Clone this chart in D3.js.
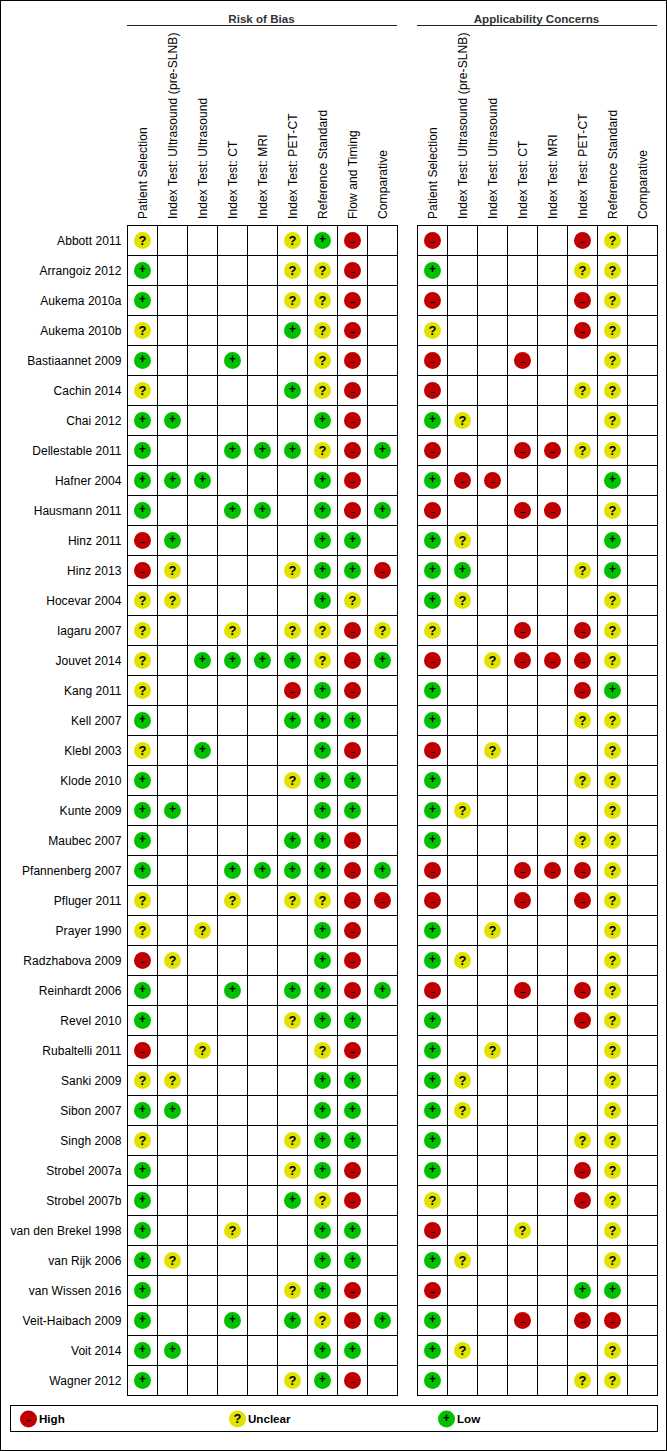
<!DOCTYPE html>
<html>
<head>
<meta charset="utf-8">
<script src="https://cdn.jsdelivr.net/npm/d3@7"></script>
<style>
  html, body { margin: 0; padding: 0; background: #fff; }
  svg { display: block; font-family: "Liberation Sans", Arial, sans-serif; }
</style>
</head>
<body>
<svg id="chart"></svg>
<script>
var studies = ["Abbott 2011", "Arrangoiz 2012", "Aukema 2010a", "Aukema 2010b", "Bastiaannet 2009",
  "Cachin 2014", "Chai 2012", "Dellestable 2011", "Hafner 2004", "Hausmann 2011", "Hinz 2011", "Hinz 2013",
  "Hocevar 2004", "Iagaru 2007", "Jouvet 2014", "Kang 2011", "Kell 2007", "Klebl 2003", "Klode 2010",
  "Kunte 2009", "Maubec 2007", "Pfannenberg 2007", "Pfluger 2011", "Prayer 1990", "Radzhabova 2009",
  "Reinhardt 2006", "Revel 2010", "Rubaltelli 2011", "Sanki 2009", "Sibon 2007", "Singh 2008",
  "Strobel 2007a", "Strobel 2007b", "van den Brekel 1998", "van Rijk 2006", "van Wissen 2016",
  "Veit-Haibach 2009", "Voit 2014", "Wagner 2012"];

var riskDomains = ["Patient Selection", "Index Test: Ultrasound (pre-SLNB)", "Index Test: Ultrasound",
  "Index Test: CT", "Index Test: MRI", "Index Test: PET-CT", "Reference Standard", "Flow and Timing", "Comparative"];
var applicabilityDomains = ["Patient Selection", "Index Test: Ultrasound (pre-SLNB)", "Index Test: Ultrasound",
  "Index Test: CT", "Index Test: MRI", "Index Test: PET-CT", "Reference Standard", "Comparative"];

// one string per study, one letter per domain: H high, U unclear, L low, . not assessed
var riskOfBias = ["U....ULH.", "L....UUH.", "L....UUH.", "U....LUH.", "L..L..UH.", "U....LUH.", "LL....LH.",
  "L..LLLUHL", "LLL...LH.", "L..LL.LHL", "HL....LL.", "HU...ULLH", "UU....LU.", "U..U.UUHU", "U.LLLLUHL",
  "U....HLH.", "L....LLL.", "U.L...LH.", "L....ULL.", "LL....LL.", "L....LLH.", "L..LLLLHL", "U..U.UUHH",
  "U.U...LH.", "HU....LH.", "L..L.LLHL", "L....ULL.", "H.U...UH.", "UU....LL.", "LL....LL.", "U....ULL.",
  "L....ULH.", "L....LUH.", "L..U..LL.", "LU....LL.", "L....ULH.", "L..L.LUHL", "LL....LL.", "L....ULH."];
var applicability = ["H....HU.", "L....UU.", "H....HU.", "U....HU.", "H..H..U.", "H....UU.", "LU....U.",
  "H..HHUU.", "LHH...L.", "H..HH.U.", "LU....L.", "LL...UL.", "LU....U.", "U..H.HU.", "H.UHHHU.",
  "L....HL.", "L....UU.", "H.U...U.", "L....UU.", "LU....U.", "L....UU.", "H..HHHU.", "H..H.HU.",
  "L.U...U.", "LU....U.", "H..H.HU.", "L....HU.", "L.U...U.", "LU....U.", "LU....U.", "L....UU.",
  "L....HU.", "U....HU.", "H..U..U.", "LU....U.", "H....LL.", "L..H.HH.", "LU....U.", "L....UU."];

var legendKeys = ["H", "U", "L"];
var legendLabels = ["High", "Unclear", "Low"];

var colors = { H: "#c00000", U: "#e2e200", L: "#00c000" };
var glyphs = { H: "\u2013", U: "?", L: "+" };

var width = 667, height = 1451;
var gridTop = 225, gridBottom = 1395, radius = 8.5;

var svg = d3.select("svg#chart").attr("width", width).attr("height", height);

// outer frame
svg.append("rect")
  .attr("x", 0.5).attr("y", 0.5)
  .attr("width", width - 1).attr("height", height - 1)
  .attr("fill", "#fff").attr("stroke", "#000");

var y = d3.scaleBand().domain(d3.range(studies.length)).range([gridTop, gridBottom]);

// draws a circle with its glyph, centred on the given point
function addMark(sel, key) {
  sel.append("circle").attr("cx", 0.5).attr("cy", 0.4).attr("r", radius).attr("fill", colors[key]);
  sel.append("text")
    .attr("x", 0.5)
    .attr("y", key === "U" ? 4.5 : key === "L" ? 3.2 : 4.6)
    .attr("text-anchor", "middle")
    .attr("font-weight", "bold")
    .attr("font-size", key === "U" ? "13px" : key === "L" ? "12px" : "9px")
    .attr("fill", "#000")
    .text(glyphs[key]);
}

function drawPanel(title, domains, rows, left) {
  var x = d3.scaleBand().domain(d3.range(domains.length)).range([left, left + 30 * domains.length]);
  var g = svg.append("g");
  var right = x.range()[1];

  g.append("text")
    .attr("x", (left + right) / 2 - 0.5)
    .attr("y", 22.5)
    .attr("text-anchor", "middle")
    .attr("font-size", "11.6px")
    .attr("font-weight", "bold")
    .attr("fill", "#333")
    .text(title);

  g.append("line")
    .attr("x1", left).attr("x2", right)
    .attr("y1", 25.5).attr("y2", 25.5)
    .attr("stroke", "#222");

  // column labels
  var axis = g.append("g")
    .attr("transform", "translate(0," + gridTop + ")")
    .call(d3.axisTop(x).tickSize(0).tickFormat(function (d) { return domains[d]; }));
  axis.select(".domain").remove();
  axis.selectAll("text")
    .attr("transform", "translate(4.5,-6) rotate(-90)")
    .attr("x", 0).attr("y", 0).attr("dy", 0)
    .style("text-anchor", "start")
    .style("letter-spacing", "0.1px")
    .attr("font-size", "12px")
    .attr("font-family", "Liberation Sans")
    .attr("fill", "#000");

  // grid
  var xEdges = d3.range(domains.length + 1).map(function (i) { return left + x.bandwidth() * i; });
  var yEdges = d3.range(studies.length + 1).map(function (i) { return gridTop + y.bandwidth() * i; });
  g.selectAll(".v").data(xEdges).enter().append("line")
    .attr("class", "v")
    .attr("x1", function (d) { return d + 0.5; }).attr("x2", function (d) { return d + 0.5; })
    .attr("y1", gridTop).attr("y2", gridBottom + 1)
    .attr("stroke", "#000");
  g.selectAll(".h").data(yEdges).enter().append("line")
    .attr("class", "h")
    .attr("y1", function (d) { return d + 0.5; }).attr("y2", function (d) { return d + 0.5; })
    .attr("x1", left).attr("x2", right + 1)
    .attr("stroke", "#000");

  // marks
  var cells = [];
  rows.forEach(function (row, r) {
    row.split("").forEach(function (key, c) {
      if (key !== ".") cells.push({ r: r, c: c, key: key });
    });
  });
  g.selectAll(".mark").data(cells).enter().append("g")
    .attr("class", "mark")
    .attr("transform", function (d) {
      return "translate(" + (x(d.c) + x.bandwidth() / 2) + "," + (y(d.r) + y.bandwidth() / 2) + ")";
    })
    .each(function (d) { addMark(d3.select(this), d.key); });
}

// study names
var rowAxis = svg.append("g")
  .attr("transform", "translate(127,0)")
  .call(d3.axisLeft(y).tickSize(0).tickPadding(5.5).tickFormat(function (d) { return studies[d]; }));
rowAxis.select(".domain").remove();
rowAxis.selectAll("text")
  .attr("dy", "0.4em")
  .style("letter-spacing", "0.05px")
  .attr("font-size", "12px")
  .attr("font-family", "Liberation Sans")
  .attr("fill", "#000");

drawPanel("Risk of Bias", riskDomains, riskOfBias, 127);
drawPanel("Applicability Concerns", applicabilityDomains, applicability, 417);

// legend
svg.append("rect")
  .attr("x", 10.5).attr("y", 1405.5)
  .attr("width", 647).attr("height", 26)
  .attr("fill", "#fff").attr("stroke", "#000");

var legendX = d3.scalePoint().domain(legendKeys).range([28, 446]);
var legendItem = svg.selectAll(".legend").data(legendKeys).enter().append("g")
  .attr("class", "legend")
  .attr("transform", function (d) { return "translate(" + legendX(d) + ",1418.5)"; });
legendItem.each(function (d) { addMark(d3.select(this), d); });
legendItem.append("text")
  .attr("x", 11)
  .attr("y", 4.5)
  .attr("font-size", "11.6px")
  .attr("font-weight", "bold")
  .attr("fill", "#000")
  .text(function (d, i) { return legendLabels[i]; });
</script>
</body>
</html>
